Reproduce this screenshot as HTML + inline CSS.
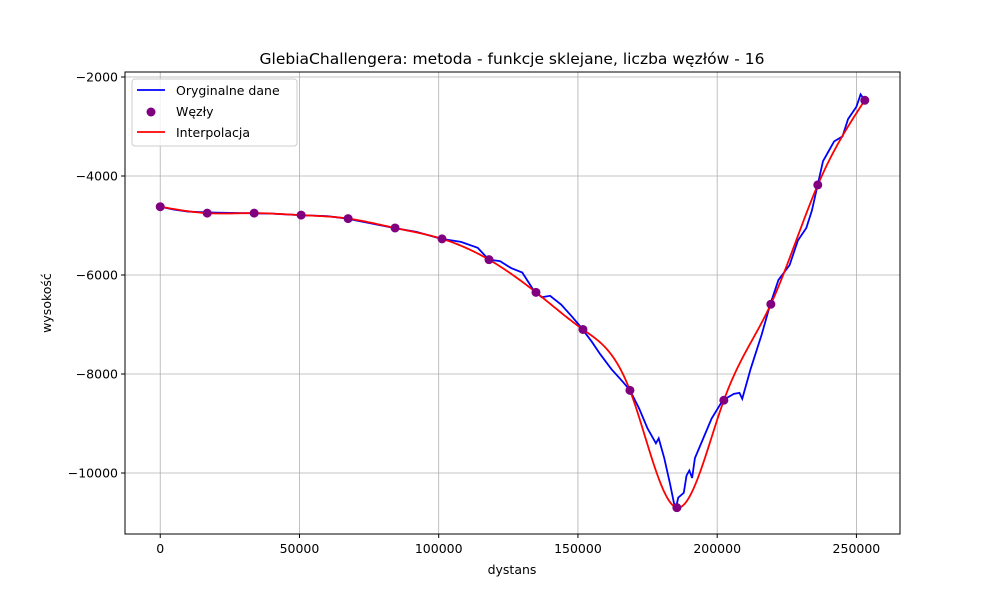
<!DOCTYPE html>
<html><head><meta charset="utf-8"><style>
body{margin:0;background:#fff}
svg{font-family:"DejaVu Sans","Liberation Sans",sans-serif}
</style></head><body>
<svg id="c" width="1000" height="600" xmlns="http://www.w3.org/2000/svg"></svg>
<script>
const dataX=[0,5000,10000,15000,20000,30000,40000,50000,60000,67000,75000,84000,92000,101000,108000,114000,118000,122000,126000,130000,134000,137000,140000,144000,148000,151000,155000,158000,162000,166000,168700,172000,175000,178000,179000,181000,183000,185000,186000,188000,189000,190000,191000,192000,195000,198000,202000,206000,208000,209000,212000,216000,219000,222000,226000,229000,232000,234000,236000,238000,240000,242000,245000,247000,250000,251500,253000];
const dataY=[-4620,-4680,-4720,-4730,-4740,-4750,-4760,-4790,-4810,-4860,-4950,-5050,-5130,-5270,-5330,-5450,-5690,-5720,-5860,-5950,-6300,-6450,-6420,-6600,-6850,-7050,-7350,-7600,-7900,-8150,-8330,-8700,-9100,-9400,-9300,-9700,-10200,-10750,-10500,-10400,-10050,-9950,-10100,-9700,-9300,-8900,-8530,-8400,-8380,-8500,-7900,-7200,-6600,-6100,-5800,-5300,-5050,-4700,-4200,-3700,-3500,-3300,-3200,-2850,-2600,-2350,-2470];
const nodeX=[0,16870,33730,50600,67470,84330,101200,118070,134930,151800,168670,185530,202400,219270,236130,253000];
const nodeY=[-4620,-4750,-4750,-4790,-4860,-5050,-5270,-5690,-6350,-7100,-8330,-10700,-8530,-6590,-4180,-2470];
const xTicks=[0,50000,100000,150000,200000,250000];
const yTicks=[-10000,-8000,-6000,-4000,-2000];
const L=125,R=900,T=72,B=534,xmin=-12650,xmax=265650,ymin=-11232,ymax=-1899;
const sx=v=>L+(v-xmin)/(xmax-xmin)*(R-L);
const sy=v=>B-(v-ymin)/(ymax-ymin)*(B-T);
const svg=document.getElementById('c');const NS='http://www.w3.org/2000/svg';
function mk(t,a,p){const e=document.createElementNS(NS,t);for(const k in a)e.setAttribute(k,a[k]);(p||svg).appendChild(e);return e;}
// grid
xTicks.forEach(t=>{const g=mk('line',{x1:sx(t),x2:sx(t),y1:T,y2:B,stroke:'#b0b0b0','stroke-width':0.8});

mk('line',{x1:sx(t),x2:sx(t),y1:B,y2:B+4,stroke:'#000'});
const tx=mk('text',{x:sx(t),y:B+19,'text-anchor':'middle','font-size':12.5});tx.textContent=t.toString();
});
yTicks.forEach(t=>{const g=mk('line',{x1:L,x2:R,y1:sy(t),y2:sy(t),stroke:'#b0b0b0','stroke-width':0.8});

mk('line',{x1:L-4,x2:L,y1:sy(t),y2:sy(t),stroke:'#000'});
const tx=mk('text',{x:L-7,y:sy(t)+4.5,'text-anchor':'end','font-size':12.5});tx.textContent=t.toString().replace('-','\u2212');
});
// original
const o=mk('polyline',{points:dataX.map((x,i)=>sx(x)+','+sy(dataY[i])).join(' '),fill:'none',stroke:'#0000ff','stroke-width':1.8});

// natural cubic spline
const n=nodeX.length,h=[],al=[0],l=[1],mu=[0],z=[0],c=new Array(n).fill(0),b=[],d=[];
for(let i=0;i<n-1;i++)h.push(nodeX[i+1]-nodeX[i]);
for(let i=1;i<n-1;i++)al.push(3/h[i]*(nodeY[i+1]-nodeY[i])-3/h[i-1]*(nodeY[i]-nodeY[i-1]));
for(let i=1;i<n-1;i++){l[i]=2*(nodeX[i+1]-nodeX[i-1])-h[i-1]*mu[i-1];mu[i]=h[i]/l[i];z[i]=(al[i]-h[i-1]*z[i-1])/l[i];}
z[n-1]=0;for(let j=n-2;j>=0;j--){c[j]=z[j]-mu[j]*c[j+1];b[j]=(nodeY[j+1]-nodeY[j])/h[j]-h[j]*(c[j+1]+2*c[j])/3;d[j]=(c[j+1]-c[j])/(3*h[j]);}
const pts=[];for(let j=0;j<n-1;j++)for(let k=0;k<=30;k++){const t=h[j]*k/30,x=nodeX[j]+t;const y=nodeY[j]+b[j]*t+c[j]*t*t+d[j]*t*t*t;pts.push(sx(x)+','+sy(y));}
const ip=mk('polyline',{points:pts.join(' '),fill:'none',stroke:'#ff0000','stroke-width':1.8});

nodeX.forEach((x,i)=>{const p=mk('circle',{cx:sx(x),cy:sy(nodeY[i]),r:4.5,fill:'#800080'});
});
// frame
const f=mk('rect',{x:L,y:T,width:R-L,height:B-T,fill:'none',stroke:'#000','stroke-width':1});

// titles
let t=mk('text',{x:512,y:64,'text-anchor':'middle','font-size':15.5});t.textContent='GlebiaChallengera: metoda - funkcje sklejane, liczba węzłów - 16';

t=mk('text',{x:512,y:574,'text-anchor':'middle','font-size':12.5});t.textContent='dystans';

t=mk('text',{x:51,y:303,'text-anchor':'middle','font-size':12.5,transform:'rotate(-90 51 303)'});t.textContent='wysokość';

// legend
const lg=mk('g',{});
mk('rect',{x:132,y:79,width:165,height:67,rx:3,fill:'#fff','fill-opacity':0.8,stroke:'#ccc'},lg);
mk('line',{x1:137,x2:165,y1:90,y2:90,stroke:'#0000ff','stroke-width':1.8},lg);
mk('circle',{cx:151,cy:112,r:4.5,fill:'#800080'},lg);
mk('line',{x1:137,x2:165,y1:132,y2:132,stroke:'#ff0000','stroke-width':1.8},lg);
[['Oryginalne dane',95],['Węzły',116],['Interpolacja',137]].forEach(([s,y])=>{const e=mk('text',{x:176,y:y,'font-size':12.5},lg);e.textContent=s;
});
</script>
</body></html>
